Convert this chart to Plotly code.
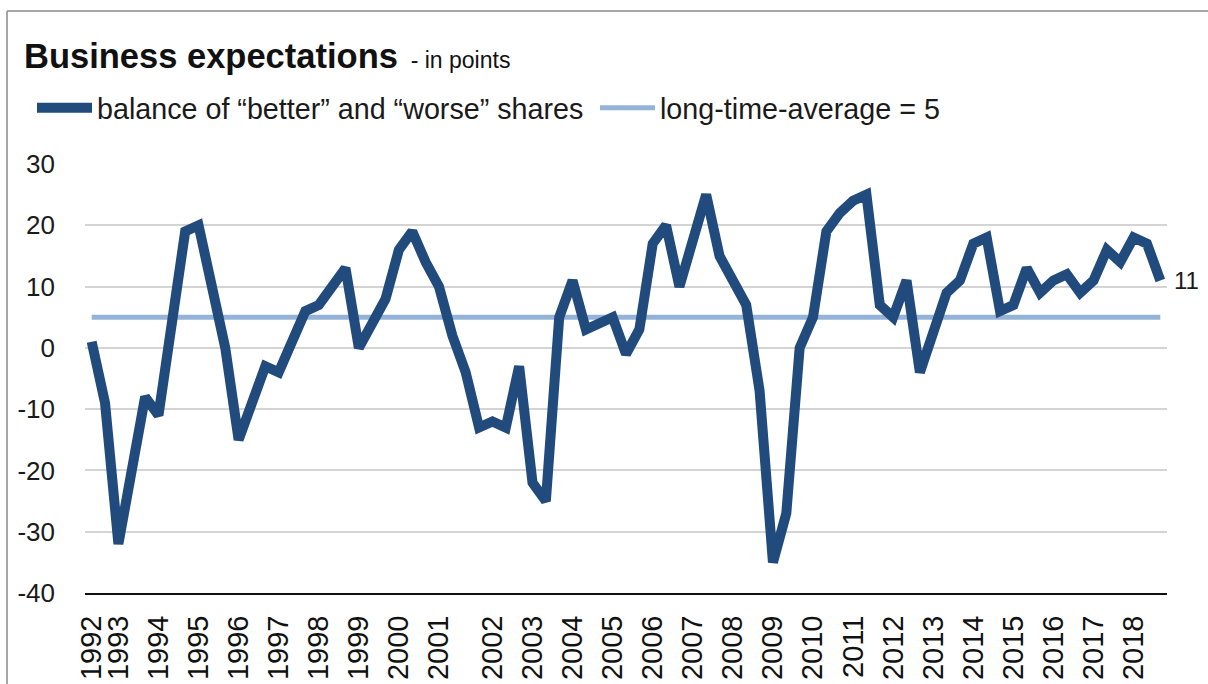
import plotly.graph_objects as go

# ---- data -------------------------------------------------------------
years = list(range(1992, 2019))
surveys_per_year = [2, 3, 3, 3, 3, 3, 3, 3, 3, 4, 3, 3, 3, 3, 3, 3, 3, 3,
                    3, 3, 3, 3, 3, 3, 3, 3, 3]
balance = [1, -9, -32, -20, -8, -11, 4, 19, 20, 10, 0, -15, -9, -3, -4, 1,
           6, 7, 10, 13, 0, 4, 8, 16, 19, 14, 10, 2, -4, -13, -12, -13, -3,
           -22, -25, 5, 11, 3, 4, 5, -1, 3, 17, 20, 10, 18, 25, 15, 11, 7,
           -7, -35, -27, 0, 5, 19, 22, 24, 25, 7, 5, 11, -4, 2, 9, 11, 17,
           18, 6, 7, 13, 9, 11, 12, 9, 11, 16, 14, 18, 17, 11]
long_time_average = 5
y_ticks = [-40, -30, -20, -10, 0, 10, 20, 30]

# categories: one per survey
periods = []
year_first_period = []
for yr, n in zip(years, surveys_per_year):
    year_first_period.append(f"{yr}-1")
    for k in range(1, n + 1):
        periods.append(f"{yr}-{k}")

# ---- layout helpers ---------------------------------------------------
W, H = 1208, 684
L, R, T, B = 85, 1167, 164, 593


def px_x(p):
    return (p - L) / (R - L)


def px_y(p):
    return (B - p) / (B - T)


DARK = "#214a7d"
LIGHT = "#95b3d7"
FONT = "Liberation Sans, Arial, sans-serif"

fig = go.Figure()
fig.add_trace(go.Scatter(
    x=periods, y=[long_time_average] * len(periods), mode="lines",
    name=f"long-time-average = {long_time_average}",
    line=dict(color=LIGHT, width=5), legend="legend2", hoverinfo="skip"))
fig.add_trace(go.Scatter(
    x=periods, y=balance, mode="lines",
    name="balance of \u201cbetter\u201d and \u201cworse\u201d shares",
    line=dict(color=DARK, width=10), legend="legend"))

fig.add_annotation(x=periods[-1], y=balance[-1], text=str(balance[-1]),
                   xanchor="left", yanchor="middle", xshift=12, showarrow=False,
                   font=dict(family=FONT, size=24, color="#1a1a1a"))

# frame
fig.add_shape(type="line", xref="paper", yref="paper",
              x0=px_x(7), x1=px_x(7), y0=px_y(11), y1=px_y(700),
              line=dict(color="#a6a6a6", width=2))
fig.add_shape(type="line", xref="paper", yref="paper",
              x0=px_x(7), x1=px_x(1220), y0=px_y(11), y1=px_y(11),
              line=dict(color="#a6a6a6", width=2))

legend_common = dict(
    orientation="h", xref="container", yref="container",
    xanchor="left", y=1 - 108 / H, yanchor="middle",
    font=dict(family=FONT, size=28.7, color="#1a1a1a"),
    itemwidth=55,
    bgcolor="rgba(0,0,0,0)", itemclick=False, itemdoubleclick=False)

fig.update_layout(
    width=W, height=H,
    margin=dict(l=L, r=W - R, t=T, b=H - B, autoexpand=False),
    paper_bgcolor="white", plot_bgcolor="white",
    font=dict(family=FONT, color="#1a1a1a"),
    title=dict(
        text="<b>Business expectations</b><span style='font-size:23px'>  - in points</span>",
        font=dict(family=FONT, size=34.5, color="#111111"),
        xref="container", yref="container",
        x=24 / W, xanchor="left", y=1 - 68 / H, yanchor="bottom"),
    legend=dict(x=32 / W, **legend_common),
    legend2=dict(x=595 / W, **legend_common),
    showlegend=True,
    xaxis=dict(
        type="category", range=[-0.5, len(periods) - 0.5],
        tickmode="array", tickvals=year_first_period,
        ticktext=[str(y) for y in years], tickangle=-90,
        tickfont=dict(family="Liberation Sans, Arial, sans-serif", size=29,
                      color="#111111"),
        ticks="", ticklabelstandoff=9,
        showgrid=False, zeroline=False,
        showline=True, linecolor="#111111", linewidth=2),
    yaxis=dict(
        range=[-40, 30], tickmode="array", tickvals=y_ticks,
        ticktext=[str(v) for v in y_ticks],
        tickfont=dict(family=FONT, size=26, color="#1a1a1a"),
        ticklabelstandoff=29,
        showgrid=True, gridcolor="#d4d4d4", gridwidth=1.5,
        zeroline=False, showline=False),
)

fig.write_html("out.html",
               config={"displayModeBar": False},
               post_script="document.body.style.margin='0';")
